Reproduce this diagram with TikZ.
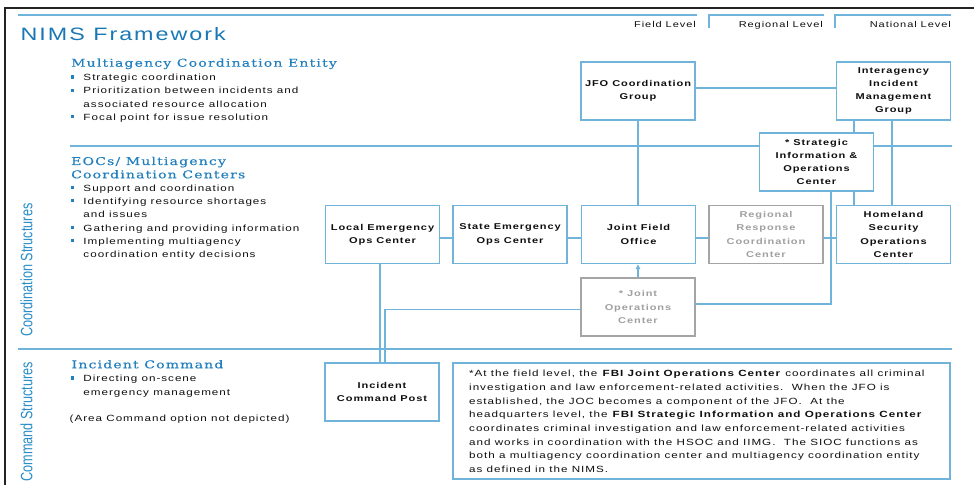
\documentclass[tikz,border=0pt]{standalone}
\usepackage{fontspec}
\setmainfont{Liberation Sans}[FakeStretch=1.3, LetterSpace=11]
\newfontfamily\serifhead{DejaVu Serif}[FakeStretch=1.3, LetterSpace=11, FakeBold=0.5]
\newfontfamily\vlabelfamily{Liberation Sans}
\usetikzlibrary{backgrounds, arrows.meta}
\definecolor{lnblue}{RGB}{112,180,220}
\definecolor{ttblue}{RGB}{25,120,180}
\definecolor{hdblue}{RGB}{35,128,190}
\definecolor{vblue}{RGB}{40,140,200}
\definecolor{gbox}{RGB}{165,165,165}
\definecolor{gtxt}{RGB}{160,160,160}
\definecolor{bodytxt}{RGB}{15,15,15}
\definecolor{framec}{RGB}{35,35,35}
\newcommand{\boxfnt}{\fontsize{8.5}{13.3}\selectfont\bfseries}
\newcommand{\bodyfnt}{\fontsize{9}{13.3}\selectfont}
\newcommand{\notefnt}{\fontsize{9}{13.7}\selectfont}
\newcommand{\headfnt}{\serifhead\fontsize{10.8}{13.3}\selectfont}
\newcommand{\titlefnt}{\fontsize{18}{20}\selectfont}
\newcommand{\vlfnt}{\vlabelfamily\fontsize{12.7}{14}\selectfont}
\begin{document}
\begin{tikzpicture}[x=1bp,y=-1bp,
  ln/.style={draw=lnblue, line width=1.3bp},
  bx/.style={draw=lnblue, line width=1.5bp, fill=white, minimum width=114bp, minimum height=58bp, inner sep=0pt, align=center, font=\boxfnt, text=bodytxt},
  gbx/.style={bx, draw=gbox, text=gtxt},
  txt/.style={anchor=base west, inner sep=0pt, font=\bodyfnt, text=bodytxt},
  lvl/.style={anchor=base east, inner sep=0pt, font=\fontsize{8.5}{10}\selectfont, text=bodytxt},
  hd/.style={anchor=base west, inner sep=0pt, font=\headfnt, text=hdblue},
  blt/.style={fill=hdblue, minimum size=3.2bp, inner sep=0pt, draw=none},
  vl/.style={rotate=90, inner sep=0pt, font=\vlfnt, text=vblue}
]
\useasboundingbox (0,0) rectangle (974,485);
\draw[draw=framec, line width=1.5bp] (5,485) -- (5,8) -- (974,8);

% title and level labels
\node[anchor=base west, inner sep=0pt, font=\titlefnt, text=ttblue] (title) at (20.5,40.7) {NIMS Framework};
\node[lvl] (fieldlvl) at (696,28) {Field Level};
\node[lvl] (reglvl) at (823,28) {Regional Level};
\node[lvl] (natlvl) at (951,28) {National Level};

% vertical labels
\node[vl] (coordlbl) at (26.5,270) {\scalebox{1}[1.3]{Coordination Structures}};
\node[vl] (cmdlbl) at (26.5,421.7) {\scalebox{1}[1.3]{Command Structures}};

% Multiagency Coordination Entity
\node[hd] (h1) at (71,66.7) {Multiagency Coordination Entity};
\node[blt] (b11) at (72.7,77) {};
\node[txt] (t11) at (83.3,80.7) {Strategic coordination};
\node[blt] (b12) at (72.7,90.3) {};
\node[txt] (t12) at (83.3,94) {Prioritization between incidents and};
\node[txt] (t12b) at (83.3,107.3) {associated resource allocation};
\node[blt] (b13) at (72.7,116.9) {};
\node[txt] (t13) at (83.3,120.6) {Focal point for issue resolution};

% EOCs
\node[hd] (h2) at (71,165) {EOCs/ Multiagency};
\node[hd] (h2b) at (71,178.3) {Coordination Centers};
\node[blt] (b21) at (72.7,187.6) {};
\node[txt] (t21) at (83.3,191.3) {Support and coordination};
\node[blt] (b22) at (72.7,200.9) {};
\node[txt] (t22) at (83.3,204.6) {Identifying resource shortages};
\node[txt] (t22b) at (83.3,217.9) {and issues};
\node[blt] (b23) at (72.7,227.5) {};
\node[txt] (t23) at (83.3,231.2) {Gathering and providing information};
\node[blt] (b24) at (72.7,240.8) {};
\node[txt] (t24) at (83.3,244.5) {Implementing multiagency};
\node[txt] (t24b) at (83.3,257.8) {coordination entity decisions};

% Incident Command
\node[hd] (h3) at (71.5,368.3) {Incident Command};
\node[blt] (b31) at (72.7,378) {};
\node[txt] (t31) at (83.3,381.7) {Directing on-scene};
\node[txt] (t31b) at (83.3,395) {emergency management};
\node[txt] (t32) at (69.5,421.7) {(Area Command option not depicted)};

% boxes
\node[bx] (jfocg) at (638,91) {JFO Coordination\\Group};
\node[bx] (iimg) at (893.5,91) {Interagency\\Incident\\Management\\Group};
\node[bx] (sioc) at (816.5,162) {* Strategic\\Information \&\\Operations\\Center};
\node[bx] (leoc) at (382.5,234.5) {Local Emergency\\Ops Center};
\node[bx] (seoc) at (510,234.5) {State Emergency\\Ops Center};
\node[bx] (jfo) at (638.5,234.5) {Joint Field\\Office};
\node[gbx] (rrcc) at (766,234.5) {Regional\\Response\\Coordination\\Center};
\node[bx] (hsoc) at (893.5,234.5) {Homeland\\Security\\Operations\\Center};
\node[gbx] (joc) at (638,307) {* Joint\\Operations\\Center};
\node[bx] (icp) at (382,392) {Incident\\Command Post};
\node[bx, minimum width=497bp, minimum height=116bp] (note) at (701.5,421) {};
\node[anchor=north west, inner sep=0pt, align=left, font=\notefnt, text=bodytxt] (notetxt) at (469,370.3) {%
*At the field level, the \textbf{FBI Joint Operations Center} coordinates all criminal\\
investigation and law enforcement-related activities.\ \ When the JFO is\\
established, the JOC becomes a component of the JFO.\ \ At the\\
headquarters level, the \textbf{FBI Strategic Information and Operations Center}\\
coordinates criminal investigation and law enforcement-related activities\\
and works in coordination with the HSOC and IIMG.\ \ The SIOC functions as\\
both a multiagency coordination center and multiagency coordination entity\\
as defined in the NIMS.};

\coordinate (xa) at (854,0);
\coordinate (xb) at (892,0);
\coordinate (xc) at (831,0);
\coordinate (xd) at (380,0);
\coordinate (xe) at (385,0);

\begin{pgfonlayer}{background}
\draw[ln] (18,15) -- (697,15);
\draw[ln] (709,28) -- (709,15) -- (824,15);
\draw[ln] (835,28) -- (835,15) -- (951,15);
\draw[ln] (70,146) -- (952,146);
\draw[ln] (18,349) -- (952,349);
\draw[ln] (jfocg.south) -- (jfocg.south |- jfo.north);
\draw[ln] ([yshift=3bp]jfocg.east) -- ([yshift=3bp]iimg.west);
\draw[ln] (iimg.south -| xa) -- (hsoc.north -| xa);
\draw[ln] (iimg.south -| xb) -- (hsoc.north -| xb);
\draw[ln] (sioc.south -| xc) |- ([yshift=3bp]joc.east);
\draw[ln] ([yshift=-3.5bp]leoc.east) -- ([yshift=-3.5bp]seoc.west);
\draw[ln] ([yshift=-3.5bp]seoc.east) -- ([yshift=-3.5bp]jfo.west);
\draw[ln] ([yshift=-3.5bp]jfo.east) -- ([yshift=-3.5bp]rrcc.west);
\draw[ln] ([yshift=-3.5bp]rrcc.east) -- ([yshift=-3.5bp]hsoc.west);
\draw[ln] (leoc.south -| xd) -- (icp.north -| xd);
\draw[ln] ([yshift=-2.5bp]joc.west) -| (icp.north -| xe);
\end{pgfonlayer}
\draw[ln, -{Triangle[width=4.5bp,length=5bp]}] (joc.north) -- (joc.north |- jfo.south);
\end{tikzpicture}
\end{document}
